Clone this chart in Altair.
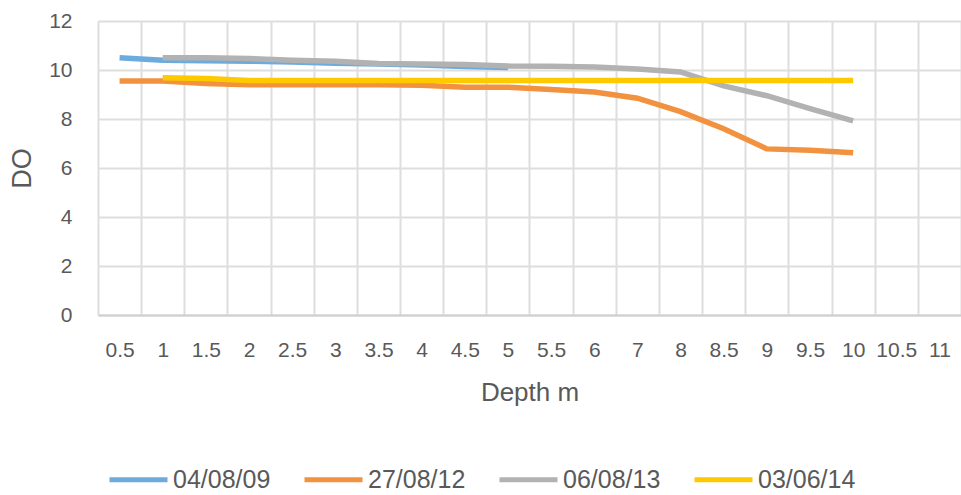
import altair as alt
import pandas as pd

depths = ["0.5", "1", "1.5", "2", "2.5", "3", "3.5", "4", "4.5", "5",
          "5.5", "6", "7", "8", "8.5", "9", "9.5", "10", "10.5", "11"]

series_names = ["04/08/09", "27/08/12", "06/08/13", "03/06/14"]
series_colors = ["#6CABDD", "#F2923F", "#B2B2B2", "#FFC900"]

do_040809 = [10.5, 10.4, 10.38, 10.36, 10.33, 10.28, 10.24, 10.2, 10.14, 10.1,
             None, None, None, None, None, None, None, None, None, None]
do_270812 = [9.55, 9.55, 9.45, 9.4, 9.4, 9.4, 9.4, 9.38, 9.3, 9.3,
             9.2, 9.1, 8.85, 8.3, 7.6, 6.78, 6.72, 6.62, None, None]
do_060813 = [None, 10.5, 10.5, 10.47, 10.4, 10.36, 10.27, 10.25, 10.22, 10.16,
             10.15, 10.12, 10.04, 9.92, 9.35, 8.95, 8.42, 7.92, None, None]
do_030614 = [None, 9.68, 9.65, 9.57, 9.57, 9.57, 9.57, 9.57, 9.57, 9.57,
             9.57, 9.57, 9.57, 9.57, 9.57, 9.57, 9.57, 9.57, None, None]

all_series = [do_040809, do_270812, do_060813, do_030614]

rows = []
for name, vals in zip(series_names, all_series):
    for d, v in zip(depths, vals):
        if v is not None:
            rows.append({"depth": d, "DO": v, "series": name})
df = pd.DataFrame(rows)

FONT = "Liberation Sans"
LABEL_COLOR = "#595959"

x_enc = alt.X(
    "depth:N",
    sort=depths,
    bandPosition=0.5,
    scale=alt.Scale(type="band", domain=depths, paddingInner=0, paddingOuter=0),
    axis=alt.Axis(
        title="Depth m",
        labelAngle=0,
        ticks=False,
        tickSize=0,
        tickBand="extent",
        grid=True,
        gridColor="#DEDEDE",
        gridWidth=2,
        domain=True,
        domainColor="#CFCFCF",
        domainWidth=2,
        labelPadding=35,
        labelBaseline="middle",
        labelFont=FONT,
        labelFontSize=21,
        labelColor=LABEL_COLOR,
        labelOverlap=False,
        labelBound=False,
        titleFont=FONT,
        titleFontSize=26,
        titleFontWeight="normal",
        titleColor=LABEL_COLOR,
        titleBaseline="middle",
        titleY=77,
    ),
)

y_enc = alt.Y(
    "DO:Q",
    scale=alt.Scale(domain=[0, 12], nice=False, zero=True),
    axis=alt.Axis(
        title="DO",
        values=[0, 2, 4, 6, 8, 10, 12],
        ticks=False,
        tickSize=0,
        domain=False,
        grid=True,
        gridColor="#DEDEDE",
        gridWidth=2,
        labelPadding=26,
        labelFont=FONT,
        labelFontSize=21,
        labelColor=LABEL_COLOR,
        titleFont=FONT,
        titleFontSize=27,
        titleFontWeight="normal",
        titleColor=LABEL_COLOR,
        titleAngle=-90,
        titleAlign="center",
        titleBaseline="middle",
        titleX=-76,
        titleY=147,
    ),
)

color_enc = alt.Color(
    "series:N",
    scale=alt.Scale(domain=series_names, range=series_colors),
    legend=alt.Legend(
        title=None,
        orient="none",
        direction="horizontal",
        legendX=9,
        legendY=427,
        symbolType="stroke",
        symbolSize=3364,
        symbolStrokeWidth=5,
        labelFont=FONT,
        labelFontSize=25,
        labelColor=LABEL_COLOR,
        labelOffset=3,
        columnPadding=23,
        labelLimit=300,
    ),
)

layers = []
for name in series_names:
    layers.append(
        alt.Chart(df)
        .transform_filter(alt.datum.series == name)
        .mark_line(strokeWidth=5.5)
        .encode(x=x_enc, y=y_enc, color=color_enc)
    )

chart = (
    alt.layer(*layers)
    .properties(
        width=863,
        height=294,
        autosize=alt.AutoSizeParams(type="none"),
        padding={"left": 98, "top": 21, "right": 0, "bottom": 180},
        background="white",
    )
    .configure_view(stroke=None)
)

chart.save("out.html", embed_options={"renderer": "svg", "actions": False})
